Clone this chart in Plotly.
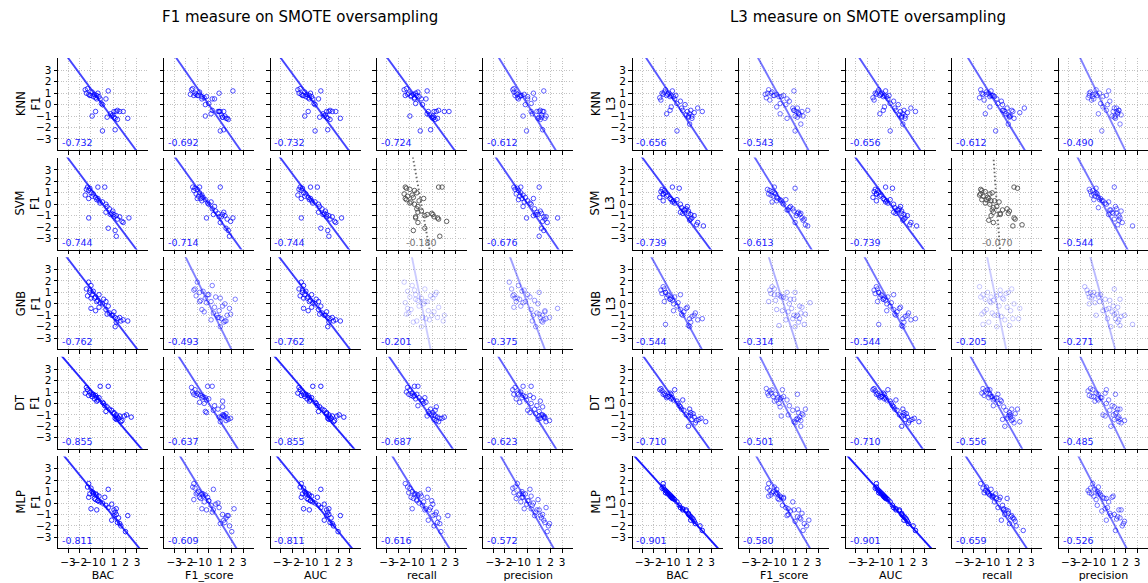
import plotly.graph_objects as go

W, H = 1148, 583

MEASURES = ["F1", "L3"]
TITLES = ["F1 measure on SMOTE oversampling", "L3 measure on SMOTE oversampling"]
CLASSIFIERS = ["KNN", "SVM", "GNB", "DT", "MLP"]
METRICS = ["BAC", "F1_score", "AUC", "recall", "precision"]

# standardized performance gains per classifier (one value per dataset)
knn_bac = [-1.5, -1.4, -1.3, -1.2, -1.1, -1.0, -0.9, -0.8, -0.7, -0.6, -0.5, -0.4, -0.3, -0.2, -0.1, 0.0, -0.5, 0.5,
           0.3, -0.6, -0.9, 0.4, 0.8, 1.0, 1.2, 1.3, 1.5, 1.8, 0.9, 1.1, 1.3, 2.2, 0.0, 1.1, 0.7, 1.0]
knn_f1s = [-1.5, -1.2, -1.4, -1.6, -1.0, -1.3, -0.8, -0.6, -1.1, -0.4, -0.9, 0.9, -0.2, 0.3, 0.0, -0.3, -0.6, 2.1,
           0.5, 0.9, -0.3, 1.2, 1.4, 1.0, 0.9, 0.3, 1.3, 0.8, 1.1, 1.5, 1.7, 1.6, 1.0, 1.3, 0.2, 1.2]
knn_rec = [-1.5, -1.1, -1.3, -1.2, -0.9, -1.4, -0.3, -0.9, -0.7, -0.6, -0.4, -0.5, -0.2, 0.0, -0.5, 0.1, -0.6, 0.5,
           0.4, 0.6, -1.0, 0.9, 1.0, 1.1, 1.3, 1.5, 2.0, 2.4, 0.7, 1.0, 1.2, 1.4, -0.1, 0.8, 0.5, 1.1]
knn_pre = [-1.3, -1.0, -1.2, -0.9, -1.1, -0.6, -1.2, -0.7, -0.3, -0.9, -0.5, 0.5, 0.0, -0.8, 0.3, -0.2, 0.0, 1.4,
           0.6, 0.3, -0.4, 1.2, 1.6, 0.8, 1.4, 1.1, 1.3, 1.0, 1.2, 1.5, 1.1, 0.9, -0.1, 1.3, 0.4, 1.0]

svm_bac = [-1.3, -1.1, -1.4, -1.2, -1.0, -0.8, -1.5, -0.9, -0.6, -1.2, -0.5, -0.3, -0.4, 0.0, -0.2, 0.3, 0.4, -0.4,
           0.2, 0.6, 0.8, 1.0, 1.2, 1.5, 1.0, 0.9, 1.3, 1.7, -1.2, 0.3, 1.8, 0.5, 1.1, 2.3, 0.7, 1.2]
svm_f1s = [-1.4, -1.2, -1.0, -1.3, -0.8, -1.1, -0.6, -0.9, -0.5, -0.7, -0.3, -0.6, -1.0, 0.2, -0.1, 0.0, 0.5, -0.8,
           1.0, 0.3, 0.8, 1.2, 1.4, 1.1, 0.9, 0.6, 1.6, 1.9, -0.2, 1.3, 1.0, 1.5, 1.7, 2.1, 0.4, 1.8]
svm_rec = [-1.4, -1.3, -1.0, -0.6, -0.4, -1.5, -0.8, -1.2, -0.7, -1.4, -1.3, -0.2, 0.2, -0.9, -1.0, -0.6, -0.3, 1.5,
           1.8, -0.4, 0.9, 1.0, 0.3, -0.5, 1.1, 0.0, 1.5, 2.2, -0.5, -0.3, -0.3, 0.3, -0.7, 1.4, 0.5, 1.6]
svm_pre = [-1.2, -0.9, -1.1, -0.8, -0.6, -1.0, -0.4, -0.7, -0.2, -0.5, -0.8, 0.0, 0.5, -0.3, 0.2, 0.3, -0.4, 1.0,
           -0.6, 0.6, 1.2, 0.9, 0.5, 1.4, 1.6, 1.1, 1.5, 1.3, -0.1, 0.8, 1.7, 1.2, 1.4, 2.6, 0.7, 1.0]

gnb_bac = [-1.2, -1.0, -1.4, -0.8, -1.1, -0.9, -1.3, -0.6, -0.7, -1.0, -0.4, -0.5, -0.2, 0.0, -1.1, -0.3, 0.3, -0.6,
           -0.3, 0.5, 0.6, 0.9, 1.1, 1.3, 1.6, 1.8, -1.0, 0.8, 1.2, 1.0, 0.1, 1.5, 2.2, 0.4, 1.1, 0.3]
gnb_f1s = [-1.0, 0.3, -1.2, -0.5, -0.8, 0.0, -1.1, 0.6, -0.3, 1.0, -0.7, 0.2, -0.2, 1.4, -1.3, 0.5, -0.6, 0.9,
           -0.1, 1.2, 0.4, 1.6, 0.8, 1.1, 1.5, 0.2, 1.8, 0.7, 1.3, -0.4, 2.3, 0.9, 1.4, 1.9, 1.0, -0.8]
gnb_rec = [-1.5, -0.8, 0.3, -1.2, 1.3, -0.5, 0.8, -1.0, 0.0, 1.0, -0.3, 0.5, -1.4, 0.2, -0.6, 1.5, -0.9, 0.6,
           1.2, -0.2, -1.1, 0.9, 1.4, 0.4, -0.4, 0.7, -1.2, 2.0, -0.7, 1.1, -0.5, 0.1, 1.9, -1.3, 0.0, 0.3]
gnb_pre = [-1.6, -0.8, -1.4, -0.5, 1.0, -1.2, -1.3, 0.2, -0.9, -1.1, 0.6, -1.0, -0.4, 0.9, -0.3, -1.2, 0.3, 1.5,
           0.0, -0.6, 0.8, 1.3, 1.1, 1.6, 1.2, 1.4, 2.6, 0.5, 1.3, 1.5, -0.7, 1.9, 0.4, 1.0, 0.7, -0.2]

dt_bac = [-1.4, -1.3, -1.1, -1.5, -1.0, -1.2, -0.8, -0.9, -0.6, -0.5, -0.7, -0.3, -0.4, 0.1, 0.2, 0.4, 0.0, -0.2,
          0.5, 0.6, 0.3, 1.0, 1.2, 1.3, 1.5, 1.4, 1.7, 2.1, 1.6, 1.2, 2.5, 1.9, 1.0, -0.5, 0.8, 1.1]
dt_f1s = [-1.5, -1.2, -1.4, -1.0, -1.3, -0.7, -0.9, -0.5, -1.1, -0.3, 0.0, -0.6, -0.2, -0.4, 0.5, 1.2, -0.8, -0.1,
          0.3, 0.8, -0.3, -0.2, 1.3, 1.1, 1.4, 1.6, 1.5, 1.2, 1.0, 1.7, 0.9, 1.3, 1.5, 1.2, 0.4, 1.9]
dt_rec = [-1.2, -1.0, -1.3, -0.8, -1.1, -0.6, -0.4, -0.7, -0.9, -0.2, -0.5, 0.3, 0.0, 0.2, -0.3, 1.3, 0.4, -0.6,
          -0.3, 0.8, 0.6, 1.0, 1.1, 1.4, 1.2, 1.6, 1.3, 0.9, 1.5, 1.1, 2.0, 0.5, 0.7, 0.1, 1.2, 1.8]
dt_pre = [-1.1, -1.3, -0.6, -0.9, -1.2, -0.4, -0.8, -0.2, 0.2, -0.5, -1.0, 0.5, -0.1, 0.3, 0.8, 1.3, -0.7, 0.3,
          -0.4, 0.6, 1.0, 0.2, 1.2, 1.5, 1.4, 1.1, 1.9, 1.3, 1.6, 0.9, 1.4, 1.0, 0.7, 1.1, 0.0, 1.5]

mlp_bac = [-1.3, -1.2, -1.0, -0.9, -0.8, -1.1, -0.6, -0.5, -1.2, -0.3, -0.7, -0.4, -0.2, 0.0, -1.0, -0.5, 0.5, 0.2,
           -0.6, 0.3, 0.8, 1.0, 1.1, 1.2, 1.0, 0.8, 1.4, 1.3, 1.6, 2.0, 2.2, 1.2, -0.8, 0.5, -0.4, 1.5]
mlp_f1s = [-1.4, -1.3, -1.2, -0.9, -1.0, -0.6, -1.1, -0.3, -0.8, -0.5, -0.7, 0.0, -0.4, 0.8, -0.6, -0.2, 0.4, -0.1,
           -1.3, 0.2, 0.6, 0.4, 0.3, 1.2, 1.6, 1.3, 1.5, 1.4, 1.8, 2.0, 1.7, 2.2, -0.5, 0.9, 0.0, 1.0]
mlp_rec = [-1.2, -1.4, -1.0, -0.8, -1.1, -0.5, -0.6, -0.3, -0.9, 0.0, -0.7, -0.4, 0.2, -0.2, -0.8, 0.3, 0.6, 0.5,
           -0.4, 0.1, 1.0, 0.7, 1.3, 1.2, 1.0, 0.6, 1.5, 1.4, 1.1, 1.7, 2.3, 0.4, -0.1, 0.8, 0.9, 1.6]
mlp_pre = [-1.1, -0.9, -1.3, -0.5, -1.2, -0.7, -0.2, -0.8, -0.4, 0.3, -1.0, 0.0, -0.6, 0.5, -0.3, 0.8, 0.2, -0.5,
           0.9, 0.4, -0.1, 1.0, 0.7, 1.3, 0.6, 1.4, 1.2, 1.5, 1.8, 1.7, 1.1, 0.3, -0.4, 1.6, 0.1, 1.9]

# standardized complexity measures per classifier's dataset pool
f1_knn = [1.3, 1.0, 1.4, 0.9, 0.8, 0.8, 1.1, 0.7, 0.9, 0.6, 0.8, 1.0, 0.7, 0.5, 0.1, 0.0, 0.5, 1.2,
          0.5, -0.6, -1.0, -1.1, -1.0, -0.6, -0.6, -0.5, -0.6, -0.6, -0.9, -1.2, -1.3, -1.2, -2.3, -2.2, -0.8, -1.1]
f1_svm = [1.5, 1.4, 1.3, 1.2, 1.0, 0.9, 0.8, 0.7, 0.6, 0.5, 0.4, 0.3, 0.5, 0.2, 0.1, 0.0, -0.2, 1.5,
          1.5, -0.4, -0.8, -0.9, -1.0, -1.1, -1.1, -0.6, -1.3, -1.5, -1.2, -0.7, -1.6, -2.1, -2.3, -1.2, -0.9, -2.8]
f1_gnb = [1.9, 1.6, 1.3, 1.1, 1.0, 0.8, 0.7, 0.6, 0.5, 0.5, 0.3, 0.2, 0.1, 0.0, 1.2, -0.3, -0.5, -0.6,
          0.8, -0.2, -0.8, -1.0, -1.2, -1.3, -1.5, -1.4, -0.4, -1.0, -1.6, -0.7, 0.4, -1.2, -1.5, -0.9, -2.0, 0.2]
f1_dt = [1.4, 1.2, 1.0, 0.9, 0.8, 0.7, 0.8, 0.6, 0.7, 0.5, 0.4, 0.5, 0.3, 0.0, -0.2, -0.3, 0.1, 1.5,
         1.5, -0.5, -0.7, -0.8, -1.0, -1.2, -1.1, -1.3, -1.5, -1.0, -1.6, -1.4, -1.2, -1.1, -0.9, 0.2, -0.6, -1.3]
f1_mlp = [1.4, 1.7, 1.3, 1.0, 0.9, 0.8, 0.8, 0.7, 0.5, 0.6, 0.4, 0.2, 0.1, 0.0, -0.5, -0.6, 1.2, 0.5,
          0.3, -0.2, -0.1, -0.6, -0.8, -1.0, -1.1, -1.5, -1.3, -1.7, -2.0, -2.5, -1.1, -0.5, 0.8, -0.4, 0.2, -1.8]

l3_knn = [0.6, 0.4, 1.0, 0.9, 1.1, 1.3, 0.8, 0.9, 1.0, 0.7, 0.8, 1.2, 0.7, 0.5, 0.8, 0.1, -0.2, -0.5,
          0.3, -0.5, -0.8, -0.3, -0.9, -1.0, -0.5, -1.2, -0.7, -0.3, -0.6, -1.7, -1.0, -0.6, -2.3, -0.8, 0.0, -1.1]
l3_svm = [1.3, 1.2, 1.1, 0.9, 1.0, 0.8, 0.6, 0.7, 0.5, 0.9, 0.4, 0.3, 0.2, 0.4, 0.1, 0.0, -0.3, 1.5,
          1.4, -0.5, -0.4, -0.8, -0.9, -1.0, -0.6, -0.2, -1.2, -1.8, 0.3, -0.7, -1.6, -0.8, -1.4, -1.9, -0.5, -1.3]
l3_gnb = [1.5, 1.0, 1.2, 0.8, 1.3, 0.6, 0.9, 0.4, 0.7, 1.0, 0.3, 0.5, 0.6, -0.2, 0.2, 0.0, -0.5, 0.4,
          -0.6, -1.0, -0.7, -0.3, -1.3, -1.1, -0.8, -1.4, -1.8, -0.4, -1.6, -1.9, 0.1, -1.0, -1.3, -0.9, -2.0, 0.8]
l3_dt = [1.3, 1.1, 0.9, 1.2, 0.7, 0.8, 0.6, 0.5, 0.9, 0.4, 0.6, 0.3, 0.5, 0.0, -0.2, -0.5, 0.2, 1.2,
         0.3, -0.6, -0.3, -1.1, -0.8, -1.4, -1.2, -0.9, -1.5, -1.3, -1.7, -1.0, -1.6, -1.4, -2.0, 0.8, -1.0, -0.5]
l3_mlp = [1.3, 1.7, 1.1, 1.0, 0.9, 1.2, 0.7, 0.6, 1.4, 0.4, 0.8, 0.5, 0.3, 0.1, 0.9, 0.5, -0.5, -0.2,
          0.6, -0.4, -0.7, -1.0, -1.1, -1.2, -0.9, -0.6, -1.4, -1.3, -1.8, -2.0, -2.4, -1.5, 0.8, -0.6, 0.4, -1.6]

# Pearson correlations (measure vs metric), order of METRICS
corr_f1_knn = [-0.732, -0.692, -0.732, -0.724, -0.612]
corr_f1_svm = [-0.744, -0.714, -0.744, -0.180, -0.676]
corr_f1_gnb = [-0.762, -0.493, -0.762, -0.201, -0.375]
corr_f1_dt = [-0.855, -0.637, -0.855, -0.687, -0.623]
corr_f1_mlp = [-0.811, -0.609, -0.811, -0.616, -0.572]
corr_l3_knn = [-0.656, -0.543, -0.656, -0.612, -0.490]
corr_l3_svm = [-0.739, -0.613, -0.739, -0.070, -0.544]
corr_l3_gnb = [-0.544, -0.314, -0.544, -0.205, -0.271]
corr_l3_dt = [-0.710, -0.501, -0.710, -0.556, -0.485]
corr_l3_mlp = [-0.901, -0.580, -0.901, -0.659, -0.526]

R_CRIT = 0.195  # |r| below this is not significant

perf = {
    "KNN": [knn_bac, knn_f1s, knn_bac, knn_rec, knn_pre],
    "SVM": [svm_bac, svm_f1s, svm_bac, svm_rec, svm_pre],
    "GNB": [gnb_bac, gnb_f1s, gnb_bac, gnb_rec, gnb_pre],
    "DT": [dt_bac, dt_f1s, dt_bac, dt_rec, dt_pre],
    "MLP": [mlp_bac, mlp_f1s, mlp_bac, mlp_rec, mlp_pre],
}
measure = {
    "F1": {"KNN": f1_knn, "SVM": f1_svm, "GNB": f1_gnb, "DT": f1_dt, "MLP": f1_mlp},
    "L3": {"KNN": l3_knn, "SVM": l3_svm, "GNB": l3_gnb, "DT": l3_dt, "MLP": l3_mlp},
}
corr = {
    "F1": {"KNN": corr_f1_knn, "SVM": corr_f1_svm, "GNB": corr_f1_gnb, "DT": corr_f1_dt, "MLP": corr_f1_mlp},
    "L3": {"KNN": corr_l3_knn, "SVM": corr_l3_svm, "GNB": corr_l3_gnb, "DT": corr_l3_dt, "MLP": corr_l3_mlp},
}

# panel geometry in pixels
GROUP_LEFT = [58.0, 632.5]
GROUP_STEP = [106.3, 106.6]
PANEL_W = 90.0
TOP0, ROW_STEP, PANEL_H = 58.0, 99.6, 92.0
X_RANGE = [-3.87, 3.96]
Y_RANGE = [-3.97, 4.08]
TICKS = [-3, -2, -1, 0, 1, 2, 3]
TICK_TEXT = [str(t).replace("-", "\u2212") for t in TICKS]
FONT = "DejaVu Sans"
GRID = dict(showgrid=True, gridcolor="#c2c2c2", griddash="1px,1.6px", gridwidth=1.2)

fig = go.Figure()
layout = {}
annotations = []

k = 0
for g, meas in enumerate(MEASURES):
    for r, clf in enumerate(CLASSIFIERS):
        yv = measure[meas][clf]
        top = TOP0 + r * ROW_STEP
        bottom = top + PANEL_H
        for c, met in enumerate(METRICS):
            k += 1
            xv = perf[clf][c]
            rho = corr[meas][clf][c]
            sig = abs(rho) >= R_CRIT
            left = GROUP_LEFT[g] + c * GROUP_STEP[g]
            right = min(left + PANEL_W, W)
            if sig:
                a = abs(rho)
                pt_col = f"rgba(0,0,255,{a:.3f})"
                ln = dict(color=f"rgba(0,0,255,{a:.3f})", width=1.9)
                txt_col = "rgb(25,25,255)"
            else:
                pt_col = "rgba(70,70,70,0.85)"
                ln = dict(color="rgba(90,90,90,0.9)", width=1.9, dash="1.5px,2.5px")
                txt_col = "rgb(115,115,115)"
            suffix = "" if k == 1 else str(k)
            xr, yr = "x" + suffix, "y" + suffix
            fig.add_trace(go.Scatter(
                x=xv, y=yv, mode="markers", xaxis=xr, yaxis=yr,
                marker=dict(symbol="circle-open", size=4.5, color=pt_col, line=dict(width=1)),
                showlegend=False, hoverinfo="skip"))
            # fitted line through the standardized data: x = r * y
            ly = [Y_RANGE[0] - 0.3, Y_RANGE[1] + 0.3]
            lx = [rho * v for v in ly]
            fig.add_trace(go.Scatter(
                x=lx, y=ly, mode="lines", xaxis=xr, yaxis=yr, line=ln,
                showlegend=False, hoverinfo="skip"))

            layout["xaxis" + suffix] = dict(
                domain=[left / W, right / W], anchor=yr, range=X_RANGE,
                tickvals=TICKS, ticktext=TICK_TEXT, showticklabels=(r == 4),
                ticks="outside", ticklen=3.5, tickwidth=1, tickcolor="black", tickangle=0,
                zeroline=False, showline=True, linecolor="black", linewidth=1,
                tickfont=dict(family=FONT, size=10.5, color="black"),
                title=dict(text=met if r == 4 else "", font=dict(family=FONT, size=11, color="black"),
                           standoff=4),
                **GRID,
            )
            layout["yaxis" + suffix] = dict(
                domain=[1 - bottom / H, 1 - top / H], anchor=xr, range=Y_RANGE,
                tickvals=TICKS, ticktext=TICK_TEXT, showticklabels=(c == 0),
                ticks="outside", ticklen=3.5, tickwidth=1, tickcolor="black",
                zeroline=False, showline=True, linecolor="black", linewidth=1,
                tickfont=dict(family=FONT, size=10.5, color="black"),
                **GRID,
            )
            annotations.append(dict(
                text=f"{rho:.3f}", xref=f"{xr} domain", yref=f"{yr} domain",
                x=0.02 if sig else 0.5, y=0.0, xanchor="left" if sig else "center", yanchor="bottom",
                showarrow=False, font=dict(family=FONT, size=9.5, color=txt_col)))
        # row label
        annotations.append(dict(
            text=f"{clf}<br>{meas}", xref="paper", yref="paper",
            x=(28 if g == 0 else 603) / W, y=1 - (top + PANEL_H / 2) / H,
            xanchor="center", yanchor="middle", textangle=-90, showarrow=False,
            font=dict(family=FONT, size=11.5, color="black")))
    annotations.append(dict(
        text=TITLES[g], xref="paper", yref="paper", x=(300 if g == 0 else 868) / W, y=1 - 17 / H,
        xanchor="center", yanchor="middle", showarrow=False,
        font=dict(family=FONT, size=15, color="black")))

fig.update_layout(
    width=W, height=H, margin=dict(l=0, r=0, t=0, b=0),
    paper_bgcolor="white", plot_bgcolor="white",
    annotations=annotations, **layout)

fig.write_html("out.html")
